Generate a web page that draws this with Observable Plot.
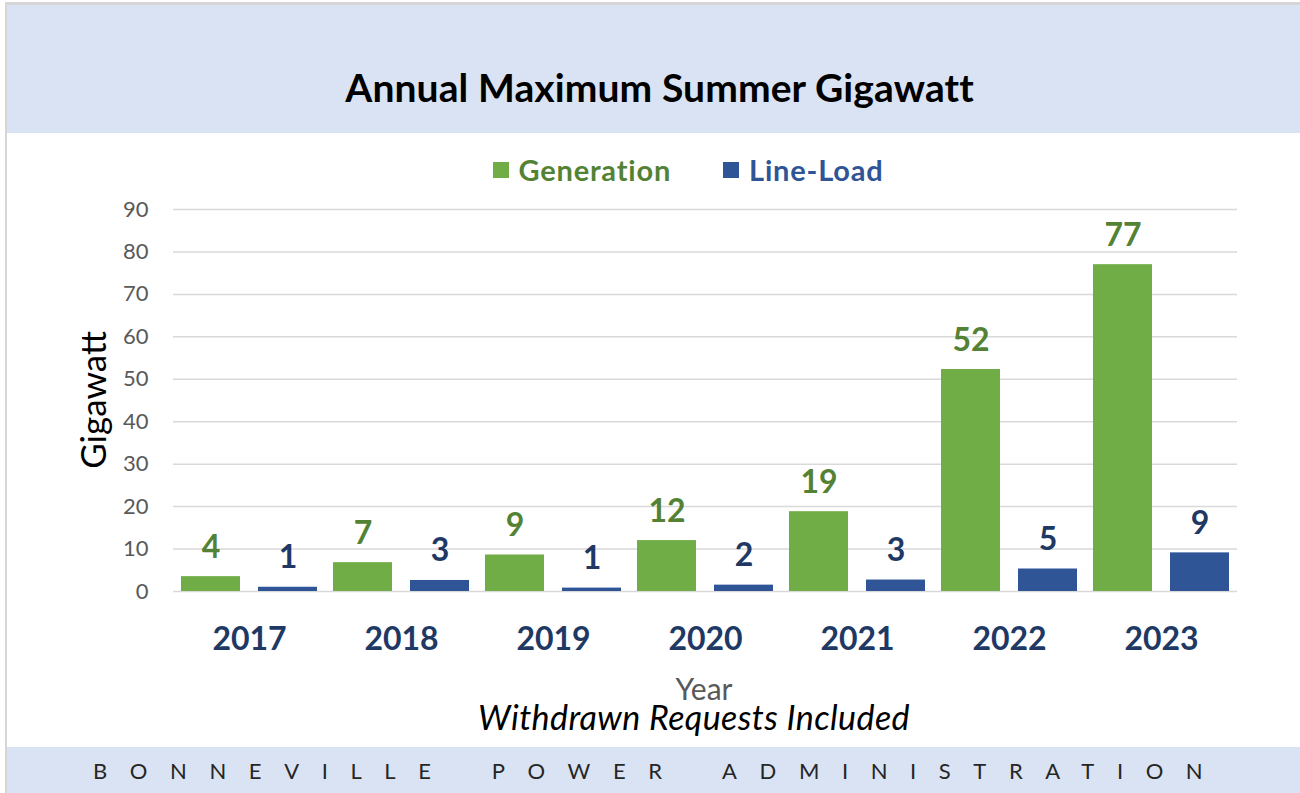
<!DOCTYPE html>
<html>
<head>
<meta charset="utf-8">
<script src="https://cdn.jsdelivr.net/npm/d3@7"></script>
<script src="https://cdn.jsdelivr.net/npm/@observablehq/plot@0.6"></script>
<style>
  html, body { margin: 0; padding: 0; background: #fff; }
  #page { position: relative; width: 1300px; height: 793px; overflow: hidden; background: #fff; font-family: Lato, "Open Sans", sans-serif; }
  .abs { position: absolute; }
  #topline { left: 5px; top: 2px; width: 1295px; height: 3px; background: #d6d6d6; }
  #leftline { left: 5px; top: 2px; width: 2px; height: 791px; background: #d6d6d6; }
  #header { left: 7px; top: 5px; width: 1293px; height: 128px; background: #dae3f3; }
  #title { left: 13px; top: 64px; width: 1293px; text-align: center; font-weight: 700; font-size: 39px; letter-spacing: 0.1px; color: #000; }
  #legend { left: 38px; top: 152px; width: 1300px; display: flex; justify-content: center; align-items: center; font-weight: 700; font-size: 29px; letter-spacing: 0.8px; }
  .item { display: flex; align-items: center; margin: 0 26px; }
  .sw { width: 16px; height: 16px; margin-right: 10px; }
  #chart { left: 0; top: 190px; }
  #ylabel { left: 92px; top: 400px; transform: translate(-50%, -50%) rotate(-90deg); font-size: 35px; color: #000; white-space: nowrap; }
  #xlabel { left: 0; top: 676px; width: 1408px; text-align: center; font-size: 30px; line-height: 24px; color: #595959; }
  #note { left: 0; top: 702px; width: 1388px; text-align: center; font-size: 34px; line-height: 30px; font-style: italic; color: #000; letter-spacing: 0.4px; }
  #footer { left: 7px; top: 747px; width: 1293px; height: 46px; background: #dae3f3; }
  #footertext { left: 93px; top: 757px; font-size: 22px; color: #262626; letter-spacing: 22.6px; word-spacing: 10px; white-space: nowrap; }
</style>
</head>
<body>
<div id="page">
  <div class="abs" id="header"></div>
  <div class="abs" id="topline"></div>
  <div class="abs" id="leftline"></div>
  <div class="abs" id="title">Annual Maximum Summer Gigawatt</div>
  <div class="abs" id="legend"></div>
  <div class="abs" id="chart"></div>
  <div class="abs" id="ylabel">Gigawatt</div>
  <div class="abs" id="xlabel">Year</div>
  <div class="abs" id="note">Withdrawn Requests Included</div>
  <div class="abs" id="footer"></div>
  <div class="abs" id="footertext">BONNEVILLE POWER ADMINISTRATION</div>
</div>
<script>
// ---- data ----
const years = ["2017", "2018", "2019", "2020", "2021", "2022", "2023"];
const seriesNames = ["Generation", "Line-Load"];
const generation = [3.5, 6.8, 8.6, 12.0, 18.8, 52.3, 77.0];
const lineLoad = [1.0, 2.6, 0.8, 1.5, 2.7, 5.3, 9.1];
const yTicks = [0, 10, 20, 30, 40, 50, 60, 70, 80, 90];

const barColors = ["#70ad47", "#2f5597"];
const labelColors = ["#548235", "#203864"];
const legendText = ["#548235", "#2f5597"];

const genData = years.map((y, i) => ({year: y, series: seriesNames[0], value: generation[i]}));
const lineData = years.map((y, i) => ({year: y, series: seriesNames[1], value: lineLoad[i]}));

// legend
const legend = document.getElementById("legend");
seriesNames.forEach((s, i) => {
  const it = document.createElement("div");
  it.className = "item";
  it.innerHTML = `<div class="sw" style="background:${barColors[i]}"></div><span style="color:${legendText[i]}">${s}</span>`;
  legend.appendChild(it);
});

const chart = Plot.plot({
  width: 1300,
  height: 470,
  marginTop: 19,
  marginBottom: 69,
  marginLeft: 170,
  marginRight: 60,
  style: {fontFamily: "Lato, 'Open Sans', sans-serif", background: "transparent", overflow: "visible"},
  fx: {domain: years, padding: 0, label: null, axis: null},
  x: {domain: seriesNames, paddingInner: 0.23, paddingOuter: 0.096, axis: null},
  y: {domain: [0, 90], label: null},
  marks: [
    Plot.gridY(yTicks, {stroke: "#d9d9d9", strokeOpacity: 1, strokeWidth: 1.5}),
    Plot.axisY(yTicks, {tickSize: 0, tickPadding: 25, fontSize: 22, fill: "#595959", label: null}),
    Plot.axisFx({anchor: "bottom", tickSize: 0, tickPadding: 36, fontSize: 32, fontWeight: "bold", fill: "#203864", label: null}),
    Plot.barY(genData, {fx: "year", x: "series", y: "value", fill: barColors[0]}),
    Plot.barY(lineData, {fx: "year", x: "series", y: "value", fill: barColors[1]}),
    Plot.text(genData, {fx: "year", x: "series", y: "value", text: d => String(Math.round(d.value)), fill: labelColors[0], fontSize: 32, fontWeight: "bold", lineAnchor: "bottom", dy: -19}),
    Plot.text(lineData, {fx: "year", x: "series", y: "value", text: d => String(Math.round(d.value)), fill: labelColors[1], fontSize: 32, fontWeight: "bold", lineAnchor: "bottom", dy: -19})
  ]
});
document.getElementById("chart").appendChild(chart);
</script>
</body>
</html>
